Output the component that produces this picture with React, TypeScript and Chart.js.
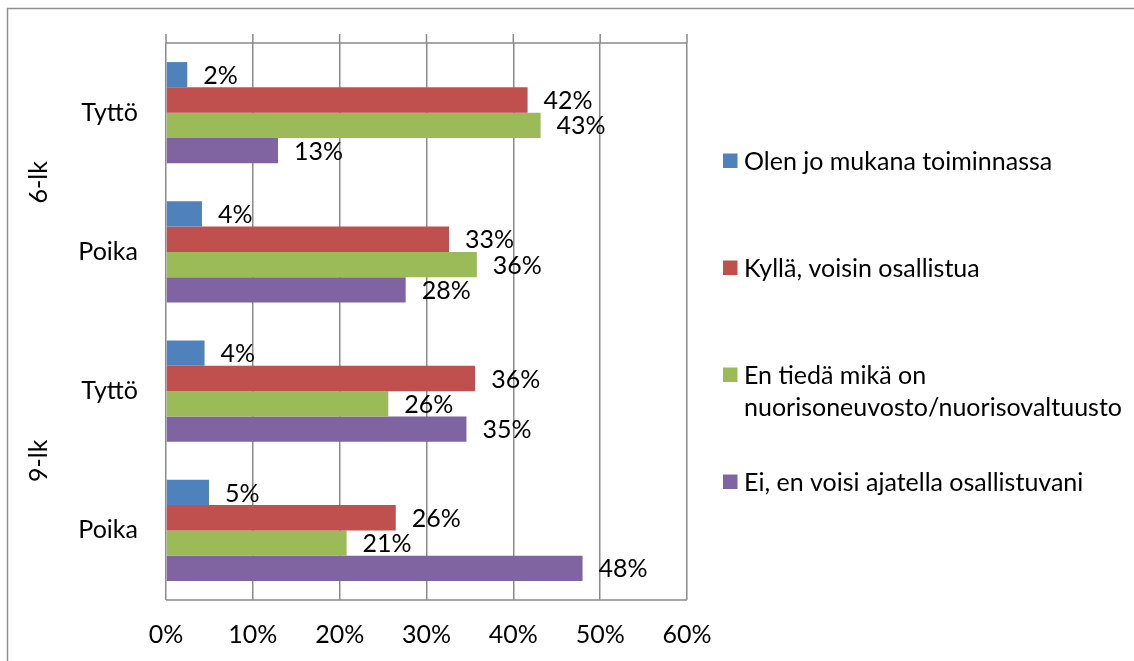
import React, { useEffect, useRef } from 'react';
import { Chart, registerables } from 'chart.js';

Chart.register(...registerables);

const categories = ['Tyttö', 'Poika', 'Tyttö', 'Poika'];
const groupLabels = ['6-lk', '9-lk'];
const seriesNames = [
  'Olen jo mukana toiminnassa',
  'Kyllä, voisin osallistua',
  'En tiedä mikä on nuorisoneuvosto/nuorisovaltuusto',
  'Ei, en voisi ajatella osallistuvani',
];
const legendLines = [
  ['Olen jo mukana toiminnassa'],
  ['Kyllä, voisin osallistua'],
  ['En tiedä mikä on', 'nuorisoneuvosto/nuorisovaltuusto'],
  ['Ei, en voisi ajatella osallistuvani'],
];
const olenJo = [2.45, 4.14, 4.44, 4.95];
const kylla = [41.64, 32.6, 35.6, 26.46];
const enTieda = [43.14, 35.8, 25.6, 20.8];
const ei = [12.9, 27.6, 34.6, 47.97];
const xMin = 0;
const xMax = 60;
const xStep = 10;
const colors = ['#4F81BD', '#C0504D', '#9BBB59', '#8064A2'];

const FONT = 'Lato, "Noto Sans", sans-serif';
const FS = 25;
const GRID = '#8a8a8a';

const decorPlugin = {
  id: 'decor',
  beforeDraw(chart: any) {
    const { ctx } = chart;
    ctx.save();
    ctx.fillStyle = '#ffffff';
    ctx.fillRect(0, 0, chart.width, chart.height);
    ctx.strokeStyle = '#8f8f8f';
    ctx.lineWidth = 1.5;
    ctx.beginPath();
    ctx.moveTo(7.5, chart.height);
    ctx.lineTo(7.5, 8.5);
    ctx.lineTo(chart.width, 8.5);
    ctx.stroke();
    ctx.restore();
  },
  beforeDatasetsDraw(chart: any) {
    const { ctx, chartArea } = chart;
    const xs = chart.scales.x;
    ctx.save();
    ctx.strokeStyle = GRID;
    ctx.lineWidth = 1.5;
    ctx.beginPath();
    ctx.moveTo(chartArea.left, chartArea.top);
    ctx.lineTo(chartArea.right, chartArea.top);
    ctx.moveTo(chartArea.left, chartArea.bottom);
    ctx.lineTo(chartArea.right, chartArea.bottom);
    for (let v = xMin; v <= xMax; v += xStep) {
      const px = xs.getPixelForValue(v);
      ctx.moveTo(px, chartArea.top - 9);
      ctx.lineTo(px, chartArea.top);
    }
    ctx.stroke();
    ctx.restore();
  },
  afterDatasetsDraw(chart: any) {
    const { ctx } = chart;
    ctx.save();
    ctx.font = `${FS}px ${FONT}`;
    ctx.fillStyle = '#000';
    ctx.textBaseline = 'middle';
    ctx.textAlign = 'left';
    chart.data.datasets.forEach((ds: any, di: number) => {
      const meta = chart.getDatasetMeta(di);
      meta.data.forEach((bar: any, i: number) => {
        const v = ds.data[i];
        ctx.fillText(Math.round(v) + '%', bar.x + 16, bar.y + 1);
      });
    });
    // group labels
    const ys = chart.scales.y;
    groupLabels.forEach((g, gi) => {
      const cy = ys.getPixelForValue(gi * 2 + 0.5);
      ctx.save();
      ctx.translate(39, cy);
      ctx.rotate(-Math.PI / 2);
      ctx.textAlign = 'center';
      ctx.textBaseline = 'middle';
      ctx.fillText(g, 0, 0);
      ctx.restore();
    });
    // legend
    legendLines.forEach((lines, i) => {
      const cy = 160.5 + i * 107;
      ctx.fillStyle = colors[i];
      ctx.fillRect(723, cy - 7, 14.5, 14.5);
      ctx.fillStyle = '#000';
      lines.forEach((t, li) => {
        ctx.fillText(t, 744, cy + li * 32 + 1);
      });
    });
    ctx.restore();
  },
};

export default function App() {
  const ref = useRef<HTMLCanvasElement | null>(null);
  useEffect(() => {
    document.body.style.margin = '0';
    if (!ref.current) return;
    const chart = new Chart(ref.current, {
      type: 'bar',
      data: {
        labels: categories,
        datasets: [olenJo, kylla, enTieda, ei].map((d, i) => ({
          label: seriesNames[i],
          data: d,
          backgroundColor: colors[i],
          borderWidth: 0,
          categoryPercentage: 0.726,
          barPercentage: 1,
        })),
      },
      options: {
        indexAxis: 'y',
        animation: false,
        responsive: false,
        layout: { padding: { left: 0, top: 38, right: 447, bottom: 0 } },
        plugins: { legend: { display: false }, tooltip: { enabled: false } },
        scales: {
          x: {
            min: xMin,
            max: xMax,
            ticks: {
              stepSize: xStep,
              callback: (v: any) => v + '%',
              color: '#000',
              font: { family: FONT, size: FS },
              padding: 20,
              maxRotation: 0,
            },
            grid: { color: GRID, lineWidth: 1.5, drawTicks: false },
            border: { display: false },
            afterFit: (s: any) => { s.height = 61; },
          },
          y: {
            ticks: {
              color: '#000',
              font: { family: FONT, size: FS },
              padding: 28,
            },
            grid: { display: false, drawTicks: false },
            border: { display: false },
            afterFit: (s: any) => { s.width = 166; },
          },
        },
      },
      plugins: [decorPlugin],
    });
    return () => chart.destroy();
  }, []);
  return (
    <div style={{ width: 1134, height: 661 }}>
      <canvas ref={ref} width={1134} height={661} />
    </div>
  );
}
